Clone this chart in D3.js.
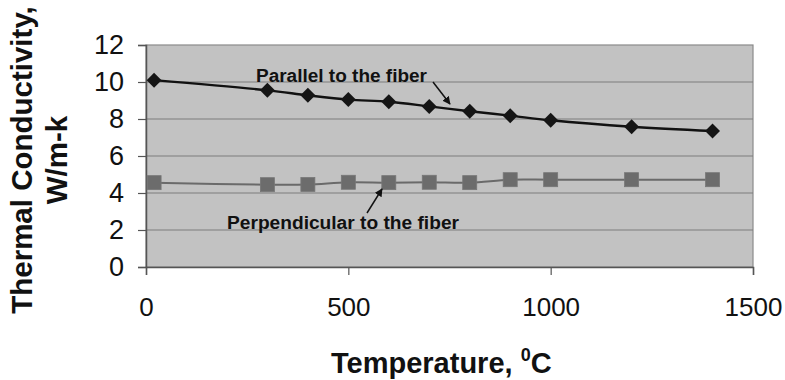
<!DOCTYPE html>
<html>
<head>
<meta charset="utf-8">
<script src="https://cdn.jsdelivr.net/npm/d3@7"></script>
<style>
  html, body { margin: 0; padding: 0; background: #fff; }
  svg { display: block; }
  text { font-family: "Liberation Sans", Arial, sans-serif; fill: #111; }
</style>
</head>
<body>
<svg id="chart" width="785" height="380"></svg>
<script>
// ---- data ----
const temperatures = [20, 300, 400, 500, 600, 700, 800, 900, 1000, 1200, 1400];
const parallelValues = [10.1, 9.55, 9.28, 9.05, 8.93, 8.68, 8.42, 8.18, 7.93, 7.58, 7.35];
const perpendicularValues = [4.56, 4.45, 4.46, 4.58, 4.56, 4.58, 4.56, 4.72, 4.72, 4.72, 4.72];
const xTicks = [0, 500, 1000, 1500];
const yTicks = [0, 2, 4, 6, 8, 10, 12];
const xTitle = "Temperature, ";
const xTitleSup = "0";
const xTitleEnd = "C";
const yTitleLines = ["Thermal Conductivity,", "W/m-k"];
const parallelLabel = "Parallel to the fiber";
const perpendicularLabel = "Perpendicular to the fiber";

// ---- layout ----
const svg = d3.select("#chart");
const plot = { left: 146, right: 753, top: 45, bottom: 267 };

const x = d3.scaleLinear().domain([0, 1500]).range([plot.left, plot.right]);
const y = d3.scaleLinear().domain([0, 12]).range([plot.bottom, plot.top]);

// plot background
svg.append("rect")
  .attr("x", plot.left).attr("y", plot.top)
  .attr("width", plot.right - plot.left).attr("height", plot.bottom - plot.top)
  .attr("fill", "#c2c2c2").attr("stroke", "#8a8a8a").attr("stroke-width", 1.2);

// gridlines
svg.append("g").selectAll("line")
  .data(yTicks.filter(d => d > 0 && d < 12))
  .join("line")
  .attr("x1", plot.left).attr("x2", plot.right)
  .attr("y1", d => y(d)).attr("y2", d => y(d))
  .attr("stroke", "#7c7c7c").attr("stroke-width", 1.1);

// axes
const yAxis = d3.axisLeft(y).tickValues(yTicks).tickFormat(d3.format("d")).tickSize(8).tickPadding(14);
const gy = svg.append("g").attr("transform", `translate(${plot.left},0)`).call(yAxis);
gy.select(".domain").attr("stroke", "#555").attr("stroke-width", 1.5);
gy.selectAll(".tick line").attr("stroke", "#555").attr("stroke-width", 1.2);
gy.selectAll(".tick text").attr("font-size", 27).attr("fill", "#111")
  .attr("font-family", "Liberation Sans, Arial, sans-serif");

const xAxis = d3.axisBottom(x).tickValues(xTicks).tickFormat(d3.format("d")).tickSize(8).tickPadding(23);
const gx = svg.append("g").attr("transform", `translate(0,${plot.bottom})`).call(xAxis);
gx.select(".domain").attr("stroke", "#555").attr("stroke-width", 1.5);
gx.selectAll(".tick line").attr("stroke", "#555").attr("stroke-width", 1.2);
gx.selectAll(".tick text").attr("font-size", 26).attr("fill", "#111")
  .attr("font-family", "Liberation Sans, Arial, sans-serif");

// lines
const curve = d3.curveCatmullRom.alpha(0.5);
const parData = temperatures.map((t, i) => ({ t, v: parallelValues[i] }));
const perData = temperatures.map((t, i) => ({ t, v: perpendicularValues[i] }));
const line = d3.line().x(d => x(d.t)).y(d => y(d.v)).curve(curve);

svg.append("path").datum(perData).attr("d", line)
  .attr("fill", "none").attr("stroke", "#6a6a6a").attr("stroke-width", 2);
svg.append("path").datum(parData).attr("d", line)
  .attr("fill", "none").attr("stroke", "#111").attr("stroke-width", 2.4);

// markers
svg.append("g").selectAll("rect")
  .data(perData).join("rect")
  .attr("x", d => x(d.t) - 7).attr("y", d => y(d.v) - 7)
  .attr("width", 14).attr("height", 14)
  .attr("fill", "#6c6c6c").attr("stroke", "#777").attr("stroke-width", 0.8);

const diamond = d3.symbol().type(d3.symbolSquare).size(112);
svg.append("g").selectAll("path")
  .data(parData).join("path")
  .attr("d", diamond)
  .attr("transform", d => `translate(${x(d.t)},${y(d.v)}) rotate(45)`)
  .attr("fill", "#151515");

// annotations
svg.append("text").attr("x", 256).attr("y", 82)
  .attr("font-size", 18).attr("font-weight", "bold")
  .attr("textLength", 171).attr("lengthAdjust", "spacingAndGlyphs")
  .text(parallelLabel);
svg.append("text").attr("x", 227).attr("y", 229)
  .attr("font-size", 18).attr("font-weight", "bold")
  .attr("textLength", 232).attr("lengthAdjust", "spacingAndGlyphs")
  .text(perpendicularLabel);

const defs = svg.append("defs");
defs.append("marker").attr("id", "ah").attr("viewBox", "0 0 10 10")
  .attr("refX", 9).attr("refY", 5).attr("markerWidth", 8).attr("markerHeight", 8)
  .attr("markerUnits", "userSpaceOnUse").attr("orient", "auto")
  .append("path").attr("d", "M0,0 L10,5 L0,10 Z").attr("fill", "#111");

svg.append("line").attr("x1", 433).attr("y1", 82).attr("x2", 450).attr("y2", 104)
  .attr("stroke", "#111").attr("stroke-width", 1.5).attr("marker-end", "url(#ah)");
svg.append("line").attr("x1", 367).attr("y1", 213).attr("x2", 382).attr("y2", 189)
  .attr("stroke", "#111").attr("stroke-width", 1.5).attr("marker-end", "url(#ah)");

// axis titles
const xt = svg.append("text").attr("x", 331).attr("y", 373)
  .attr("font-size", 29).attr("font-weight", "bold");
xt.append("tspan").text(xTitle);
xt.append("tspan").attr("font-size", 18).attr("dy", -12).text(xTitleSup);
xt.append("tspan").attr("dy", 12).text(xTitleEnd);

const yt = svg.append("text")
  .attr("transform", "translate(32,160) rotate(-90)")
  .attr("text-anchor", "middle").attr("font-size", 29.5).attr("font-weight", "bold");
yt.append("tspan").attr("x", 0).attr("y", 0).text(yTitleLines[0]);
yt.append("tspan").attr("x", 0).attr("y", 35).text(yTitleLines[1]);
</script>
</body>
</html>
